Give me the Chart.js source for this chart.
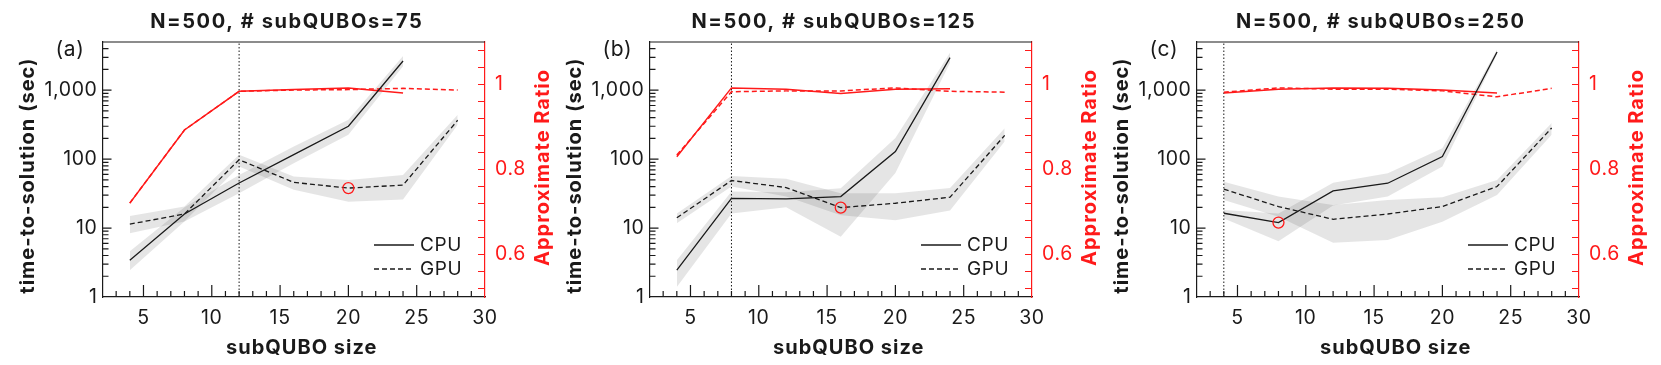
<!DOCTYPE html>
<html>
<head>
<meta charset="utf-8">
<script src="https://cdn.jsdelivr.net/npm/chart.js@4.4.1/dist/chart.umd.min.js"></script>
<style>
html, body { margin: 0; padding: 0; background: #fff; overflow: hidden; }
#wrap { position: relative; width: 1661px; height: 365px; }
.panel { position: absolute; top: 0; width: 572px; height: 365px; }
</style>
</head>
<body>
<div id="wrap">
  <div class="panel" style="left:0px"><canvas id="chartA" width="572" height="365"></canvas></div>
  <div class="panel" style="left:547px"><canvas id="chartB" width="572" height="365"></canvas></div>
  <div class="panel" style="left:1094px"><canvas id="chartC" width="572" height="365"></canvas></div>
</div>
<script>
// subQUBO sizes on the x axis
const subquboSizes = [4, 8, 12, 16, 20, 24, 28];
const xTickLabels = [5, 10, 15, 20, 25, 30];
const yTickLabels = [1, 10, 100, 1000];
const ratioTickLabels = [0.6, 0.8, 1];

const panelTitles = ['N=500, # subQUBOs=75', 'N=500, # subQUBOs=125', 'N=500, # subQUBOs=250'];
const panelLetters = ['(a)', '(b)', '(c)'];
const bestSizes = [12, 8, 4];          // dotted vertical line
const markerSizes = [20, 16, 8];       // red open circle
const markerTimes = [38, 19.8, 12];

// (a) 75 subQUBOs
const cpuTimeA = [3.4, 16, 45, 116, 300, 2650];
const cpuLowA  = [2.45, 12.5, 32, 87, 226, 2230];
const cpuHighA = [4.6, 20, 59, 152, 374, 3130];
const gpuTimeA = [11.4, 16, 98, 46, 38, 42, 366];
const gpuLowA  = [8.4, 12.4, 78, 36, 24, 26, 316];
const gpuHighA = [15, 20.5, 116, 56, 50, 59, 440];
const cpuRatioA = [0.721, 0.893, 0.984, 0.988, 0.992, 0.980];
const gpuRatioA = [0.721, 0.893, 0.984, 0.987, 0.988, 0.991, 0.987];

// (b) 125 subQUBOs
const cpuTimeB = [2.45, 27, 26.5, 28.6, 129, 2960];
const cpuLowB  = [1.4, 16.3, 20, 7.5, 63, 2500];
const cpuHighB = [3.4, 34, 33, 37.8, 202, 3500];
const gpuTimeB = [14.1, 49, 38.7, 19.8, 22.9, 28, 221];
const gpuLowB  = [11.7, 40, 28.6, 15.4, 13, 18, 180];
const gpuHighB = [16.3, 57, 52, 32, 32, 38, 280];
const cpuRatioB = [0.830, 0.992, 0.989, 0.979, 0.989, 0.990];
const gpuRatioB = [0.834, 0.983, 0.985, 0.985, 0.992, 0.984, 0.982];

// (c) 250 subQUBOs
const cpuTimeC = [16.4, 12, 34.6, 44.7, 109, 3575];
const cpuLowC  = [13.8, 6.45, 21.2, 28.6, 78, 3300];
const cpuHighC = [18.3, 16.3, 45.6, 62.6, 144, 3900];
const gpuTimeC = [36.6, 20.5, 13.4, 16, 20.5, 40, 283];
const gpuLowC  = [25.6, 14.6, 6.1, 6.7, 12.3, 30.2, 225];
const gpuHighC = [47, 28.6, 21.6, 25.6, 28, 50, 335];
const cpuRatioC = [0.980, 0.989, 0.992, 0.991, 0.987, 0.980];
const gpuRatioC = [0.982, 0.992, 0.989, 0.989, 0.985, 0.971, 0.991];

const FONT = 'Inter, "Liberation Sans", sans-serif';
const RED = '#ff1a1a';
const INK = '#1a1a1a';
const BAND = 'rgba(0,0,0,0.1)';

function pts(ys) {
    return ys.map((v, i) => ({ x: subquboSizes[i], y: v }));
}

function decorPlugin(idx) {
    return {
        id: 'decor' + idx,
        beforeDraw(chart) {
            // slightly tracked text, like the original figure
            chart.ctx.letterSpacing = '0.6px';
        },
        afterDraw(chart) {
            const ctx = chart.ctx;
            const a = chart.chartArea;
            const x = chart.scales.x, y = chart.scales.y, y2 = chart.scales.y2;
            ctx.save();
            ctx.lineWidth = 1.2;
            ctx.strokeStyle = INK;
            ctx.beginPath();
            ctx.moveTo(a.left, a.top);
            ctx.lineTo(a.right, a.top);
            // inward x ticks
            for (let v = 3; v < 30; v++) {
                const px = x.getPixelForValue(v);
                const len = v % 5 === 0 ? 12 : 6;
                ctx.moveTo(px, a.bottom);
                ctx.lineTo(px, a.bottom - len);
            }
            // inward log ticks
            for (const d of yTickLabels) {
                for (let m = 1; m <= 9; m++) {
                    const v = m * d;
                    if (v >= 5000) break;
                    if (v === 1) continue;
                    const py = y.getPixelForValue(v);
                    const len = m === 1 ? 9 : 6;
                    ctx.moveTo(a.left, py);
                    ctx.lineTo(a.left + len, py);
                }
            }
            ctx.stroke();
            // red ratio ticks
            ctx.strokeStyle = RED;
            ctx.beginPath();
            for (let k = 0; k < 15; k++) {
                const py = y2.getPixelForValue(0.52 + 0.04 * k);
                ctx.moveTo(a.right, py);
                ctx.lineTo(a.right - 7, py);
            }
            ctx.stroke();

            // legend
            const lx = a.right - 111;
            ctx.strokeStyle = INK;
            ctx.lineWidth = 1.3;
            ctx.beginPath();
            ctx.moveTo(lx, a.bottom - 52);
            ctx.lineTo(lx + 40, a.bottom - 52);
            ctx.stroke();
            ctx.setLineDash([5, 3]);
            ctx.beginPath();
            ctx.moveTo(lx, a.bottom - 28);
            ctx.lineTo(lx + 40, a.bottom - 28);
            ctx.stroke();
            ctx.setLineDash([]);
            ctx.fillStyle = INK;
            ctx.font = '19px ' + FONT;
            ctx.textAlign = 'left';
            ctx.textBaseline = 'middle';
            ctx.fillText('CPU', lx + 46, a.bottom - 52);
            ctx.fillText('GPU', lx + 46, a.bottom - 28);

            // panel letter
            ctx.font = '21px ' + FONT;
            ctx.fillText(panelLetters[idx], a.left - 47, a.top + 8);

            // title
            ctx.font = 'bold 20px ' + FONT;
            ctx.textAlign = 'center';
            ctx.letterSpacing = '1.6px';
            ctx.fillText(panelTitles[idx], (a.left + a.right) / 2 - 7, 22);

            // axis titles
            ctx.letterSpacing = '1px';
            ctx.font = 'bold 20px ' + FONT;
            ctx.fillText('subQUBO size', (a.left + a.right) / 2 + 8, a.bottom + 51);
            ctx.save();
            ctx.translate(a.left - 75, (a.top + a.bottom) / 2 + 6);
            ctx.rotate(-Math.PI / 2);
            ctx.fillText('time-to-solution (sec)', 0, 0);
            ctx.restore();
            ctx.save();
            ctx.fillStyle = RED;
            ctx.translate(a.right + 58, (a.top + a.bottom) / 2 - 2);
            ctx.rotate(-Math.PI / 2);
            ctx.fillText('Approximate Ratio', 0, 0);
            ctx.restore();
            ctx.restore();
        }
    };
}

function makeChart(id, idx, s) {
    const datasets = [
        { data: [{ x: markerSizes[idx], y: markerTimes[idx] }], showLine: false, pointRadius: 5.5,
          pointBorderColor: RED, pointBackgroundColor: 'rgba(0,0,0,0)', pointBorderWidth: 1.3, yAxisID: 'y' },
        { data: pts(s.cpuTime), borderColor: INK, borderWidth: 1.3, pointRadius: 0, yAxisID: 'y' },
        { data: pts(s.gpuTime), borderColor: INK, borderWidth: 1.3, borderDash: [5, 3], pointRadius: 0, yAxisID: 'y' },
        { data: pts(s.cpuRatio), borderColor: RED, borderWidth: 1.5, pointRadius: 0, yAxisID: 'y2' },
        { data: pts(s.gpuRatio), borderColor: RED, borderWidth: 1.5, borderDash: [5, 3], pointRadius: 0, yAxisID: 'y2' },
        { data: [{ x: bestSizes[idx], y: 1 }, { x: bestSizes[idx], y: 5000 }], borderColor: INK, borderWidth: 1,
          borderDash: [1.5, 2], pointRadius: 0, yAxisID: 'y' },
        { data: pts(s.cpuLow), borderWidth: 0, pointRadius: 0, fill: false, yAxisID: 'y' },
        { data: pts(s.cpuHigh), borderWidth: 0, pointRadius: 0, fill: '-1', backgroundColor: BAND, yAxisID: 'y' },
        { data: pts(s.gpuLow), borderWidth: 0, pointRadius: 0, fill: false, yAxisID: 'y' },
        { data: pts(s.gpuHigh), borderWidth: 0, pointRadius: 0, fill: '-1', backgroundColor: BAND, yAxisID: 'y' }
    ];
    return new Chart(document.getElementById(id), {
        type: 'line',
        data: { datasets: datasets },
        options: {
            responsive: false,
            animation: false,
            devicePixelRatio: 1,
            layout: { padding: { top: 42, left: 0, right: 0, bottom: 0 } },
            elements: { line: { tension: 0 } },
            plugins: {
                legend: { display: false },
                tooltip: { enabled: false },
                filler: { drawTime: 'beforeDatasetsDraw' }
            },
            scales: {
                x: {
                    type: 'linear', min: 2, max: 30,
                    grid: { display: false, drawTicks: false },
                    border: { color: INK, width: 1.2 },
                    afterBuildTicks: sc => { sc.ticks = xTickLabels.map(v => ({ value: v })); },
                    afterFit: sc => { sc.height = 68; },
                    ticks: { color: INK, font: { family: FONT, size: 19.5 }, padding: 9, maxRotation: 0, autoSkip: false }
                },
                y: {
                    type: 'logarithmic', position: 'left', min: 1, max: 5000,
                    grid: { display: false, drawTicks: false },
                    border: { color: INK, width: 1.2 },
                    afterBuildTicks: sc => { sc.ticks = yTickLabels.map(v => ({ value: v })); },
                    afterFit: sc => { sc.width = 102.5; },
                    ticks: { color: INK, font: { family: FONT, size: 19.5 }, padding: 5,
                             callback: v => v.toLocaleString('en-US') }
                },
                y2: {
                    type: 'linear', position: 'right', min: 0.5, max: 1.1,
                    grid: { display: false, drawTicks: false },
                    border: { color: RED, width: 1.2 },
                    afterBuildTicks: sc => { sc.ticks = ratioTickLabels.map(v => ({ value: v })); },
                    afterFit: sc => { sc.width = 87; },
                    ticks: { color: RED, font: { family: FONT, size: 19.5 }, padding: 10,
                             callback: v => (v === 1 ? '1' : v.toFixed(1)) }
                }
            }
        },
        plugins: [decorPlugin(idx)]
    });
}

makeChart('chartA', 0, { cpuTime: cpuTimeA, cpuLow: cpuLowA, cpuHigh: cpuHighA, gpuTime: gpuTimeA,
    gpuLow: gpuLowA, gpuHigh: gpuHighA, cpuRatio: cpuRatioA, gpuRatio: gpuRatioA });
makeChart('chartB', 1, { cpuTime: cpuTimeB, cpuLow: cpuLowB, cpuHigh: cpuHighB, gpuTime: gpuTimeB,
    gpuLow: gpuLowB, gpuHigh: gpuHighB, cpuRatio: cpuRatioB, gpuRatio: gpuRatioB });
makeChart('chartC', 2, { cpuTime: cpuTimeC, cpuLow: cpuLowC, cpuHigh: cpuHighC, gpuTime: gpuTimeC,
    gpuLow: gpuLowC, gpuHigh: gpuHighC, cpuRatio: cpuRatioC, gpuRatio: gpuRatioC });
</script>
</body>
</html>
